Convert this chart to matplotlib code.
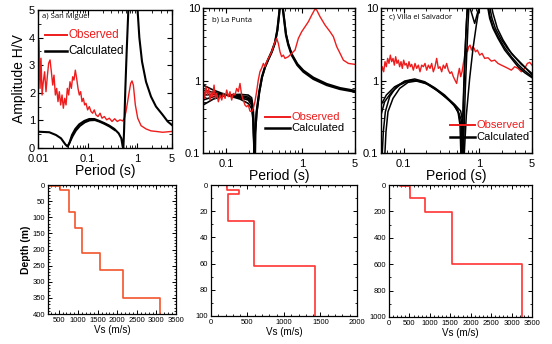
import matplotlib
matplotlib.use("Agg")
import matplotlib.pyplot as plt
from matplotlib.ticker import LogLocator, NullFormatter, MultipleLocator
import numpy as np

plt.rcParams['font.family'] = ['Liberation Sans', 'DejaVu Sans']

RED = '#ee1c1c'

# ---- a) San Miguel : H/V ----
a_obs_T = [0.0100, 0.0105, 0.0110, 0.0115, 0.0121, 0.0128, 0.0136, 0.0145, 0.0154, 0.0164,
           0.0175, 0.0186, 0.0198, 0.0210, 0.0224, 0.0238, 0.0253, 0.0269, 0.0286, 0.0305,
           0.0324, 0.0345, 0.0367, 0.0390, 0.0415, 0.0441, 0.0470, 0.0500, 0.0531, 0.0565,
           0.0601, 0.0640, 0.0680, 0.0724, 0.0770, 0.0819, 0.0871, 0.0927, 0.100, 0.108,
           0.117, 0.126, 0.136, 0.147, 0.162, 0.178, 0.195, 0.217, 0.242, 0.273,
           0.310, 0.350, 0.396, 0.449, 0.508, 0.549, 0.593, 0.671, 0.736, 0.783,
           0.833, 0.913, 1.02, 1.19, 1.50, 1.89, 2.38, 3.25, 5.0]
a_obs_A = [1.56, 3.91, 2.16, 3.25, 1.92, 2.40, 2.76, 2.04, 2.58, 3.07,
           3.19, 2.76, 2.28, 2.64, 1.92, 2.16, 1.68, 2.04, 1.56, 1.92,
           1.44, 1.80, 1.56, 2.16, 1.92, 2.40, 2.16, 2.58, 2.46, 2.82,
           2.52, 2.16, 1.92, 2.04, 1.68, 1.80, 1.56, 1.62, 1.38, 1.50,
           1.32, 1.26, 1.38, 1.20, 1.14, 1.26, 1.08, 1.14, 1.02, 1.08,
           0.96, 1.06, 0.96, 1.02, 0.98, 1.08, 1.32, 1.92, 2.34, 2.43,
           2.28, 1.56, 1.08, 0.81, 0.69, 0.62, 0.60, 0.57, 0.60]
a_cal_T = [0.0100, 0.0169, 0.0231, 0.0291, 0.0356, 0.0396, 0.0428, 0.0484, 0.0565, 0.0680,
           0.0858, 0.108, 0.136, 0.172, 0.217, 0.273, 0.345, 0.422, 0.477, 0.508,
           0.524, 0.541, 0.575, 0.611, 0.650, 0.692, 0.833, 0.972, 1.018, 1.10,
           1.245, 1.498, 1.889, 2.382, 3.245, 4.09, 5.0]
a_cal_A = [0.59, 0.57, 0.47, 0.35, 0.13, 0.05, 0.17, 0.47, 0.69, 0.86,
           0.98, 1.05, 1.05, 0.98, 0.90, 0.81, 0.69, 0.53, 0.35, 0.05,
           0.0, 0.59, 2.16, 3.49, 4.69, 6.0, 9.0, 6.0, 4.94, 4.0,
           3.13, 2.40, 1.86, 1.50, 1.20, 0.96, 0.83]
a_cal2_T = [0.0400, 0.0440, 0.0500, 0.0580, 0.0700, 0.0880, 0.110, 0.140, 0.175, 0.220, 0.280, 0.350]
a_cal2_A = [0.08, 0.22, 0.43, 0.63, 0.80, 0.93, 1.00, 1.01, 0.95, 0.87, 0.77, 0.65]

# ---- b) La Punta : H/V ----
b_obs_T = [0.0505, 0.0526, 0.0547, 0.0570, 0.0594, 0.0618, 0.0644, 0.0670, 0.0698, 0.0727,
           0.0757, 0.0796, 0.0837, 0.0881, 0.0926, 0.0974, 0.1024, 0.1077, 0.1132, 0.1191,
           0.1252, 0.1317, 0.1385, 0.1457, 0.1532, 0.1611, 0.1694, 0.1781, 0.1873, 0.1970,
           0.2072, 0.2179, 0.2291, 0.2409, 0.2533, 0.2664, 0.2801, 0.2946, 0.3112, 0.3273,
           0.3442, 0.3619, 0.3806, 0.4002, 0.4209, 0.4426, 0.4655, 0.4895, 0.5148, 0.5413,
           0.5693, 0.5988, 0.6624, 0.7338, 0.8118, 0.8978, 0.9931, 1.099, 1.216, 1.346,
           1.488, 1.565, 1.732, 2.015, 2.345, 2.594, 2.870, 3.175, 3.51, 4.09, 5.0]
b_obs_A = [0.738, 0.567, 0.820, 0.630, 0.778, 0.538, 0.700, 0.598, 0.865, 0.567,
           0.664, 0.510, 0.630, 0.538, 0.664, 0.567, 0.738, 0.598, 0.700, 0.538,
           0.664, 0.630, 0.778, 0.700, 0.912, 0.630, 0.538, 0.459, 0.435, 0.459,
           0.379, 0.371, 0.412, 0.510, 0.700, 1.01, 1.32, 1.47, 1.72, 1.55,
           1.82, 2.02, 2.24, 2.49, 2.93, 3.43, 3.81, 3.25, 2.49, 2.13,
           2.24, 2.02, 2.13, 2.37, 2.63, 3.81, 4.71, 5.52, 6.47, 8.0,
           9.69, 9.38, 7.58, 5.82, 4.71, 4.02, 2.93, 2.37, 1.91, 1.72, 1.67]
# low-period branches of the calculated curves
b_cal_T = [0.0500, 0.0684, 0.1024, 0.1532, 0.1970, 0.2179, 0.2291, 0.2380]
b_cal_A1 = [0.865, 0.738, 0.630, 0.555, 0.483, 0.412, 0.270, 0.05]
b_cal_A2 = [0.738, 0.686, 0.630, 0.579, 0.538, 0.459, 0.300, 0.05]
b_cal_A3 = [0.630, 0.644, 0.630, 0.598, 0.567, 0.499, 0.334, 0.05]
b_cal_A4 = [0.538, 0.598, 0.630, 0.616, 0.591, 0.538, 0.371, 0.05]
b_cal_A5 = [0.459, 0.555, 0.630, 0.644, 0.630, 0.579, 0.412, 0.05]
# high-period branch
b_calR_T = [0.2400, 0.2432, 0.2533, 0.2745, 0.2985, 0.3273, 0.3619, 0.4002, 0.4426, 0.4750,
            0.4998, 0.5148, 0.5300, 0.5525, 0.5810, 0.6170, 0.6624, 0.7338, 0.8710, 1.045,
            1.415, 2.120, 3.175, 5.0]
b_calR_A = [0.05, 0.196, 0.371, 0.700, 1.13, 1.55, 1.98, 2.49, 3.36, 4.97,
            8.0, 11.0, 30.0, 11.0, 7.19, 4.24, 3.08, 2.24, 1.63, 1.32,
            1.05, 0.865, 0.762, 0.700]
b_calR2_A = [0.05, 0.180, 0.350, 0.680, 1.10, 1.52, 1.95, 2.45, 3.30, 4.90,
             7.9, 11.0, 30.0, 11.5, 7.40, 4.40, 3.20, 2.33, 1.70, 1.38,
             1.10, 0.900, 0.790, 0.725]

# ---- c) Villa el Salvador : H/V ----
c_obs_T = [0.0500, 0.0521, 0.0543, 0.0565, 0.0588, 0.0613, 0.0638, 0.0665, 0.0692, 0.0721,
           0.0751, 0.0782, 0.0814, 0.0848, 0.0883, 0.0920, 0.0958, 0.0998, 0.1039, 0.1083,
           0.1128, 0.1174, 0.1223, 0.1274, 0.1341, 0.1411, 0.1484, 0.1562, 0.1643, 0.1729,
           0.1819, 0.1914, 0.2014, 0.2119, 0.2229, 0.2345, 0.2467, 0.2596, 0.2731, 0.2873,
           0.3022, 0.3181, 0.3347, 0.3521, 0.3704, 0.3897, 0.4100, 0.4313, 0.4538, 0.4774,
           0.5023, 0.5233, 0.5453, 0.5681, 0.5919, 0.6166, 0.6424, 0.6693, 0.6973, 0.7265,
           0.7569, 0.7886, 0.8216, 0.8559, 0.8918, 0.9441, 1.014, 1.088, 1.181, 1.307,
           1.447, 1.602, 1.773, 1.963, 2.173, 2.405, 2.662, 2.948, 3.263, 3.613,
           3.999, 4.337, 4.657, 5.0]
c_obs_A = [1.25, 1.55, 1.32, 1.82, 1.55, 2.02, 1.72, 2.24, 1.82, 2.02,
           1.63, 2.13, 1.72, 1.91, 1.55, 1.82, 1.47, 1.91, 1.63, 1.72,
           1.47, 1.82, 1.55, 1.67, 1.39, 1.72, 1.47, 1.63, 1.32, 1.63,
           1.55, 1.72, 1.39, 1.63, 1.47, 1.72, 1.32, 1.55, 2.02, 1.47,
           1.55, 1.32, 1.63, 1.47, 1.72, 1.39, 1.25, 1.32, 1.13, 1.01,
           0.912, 1.19, 1.47, 1.13, 1.32, 1.72, 2.24, 2.78, 2.49, 2.93,
           3.08, 2.63, 2.93, 2.78, 2.49, 2.63, 2.24, 2.37, 2.02, 2.06,
           1.85, 1.91, 1.72, 1.63, 1.55, 1.47, 1.39, 1.55, 1.47, 1.32,
           1.47, 1.72, 1.78, 1.63]
# short-period arches
c_arch1_T = [0.0516, 0.0537, 0.0571, 0.0651, 0.0798, 0.1029, 0.1396, 0.1894, 0.2569, 0.3486, 0.4494, 0.5234, 0.5564, 0.5736]
c_arch1_A = [0.084, 0.196, 0.371, 0.598, 0.820, 0.983, 1.05, 0.962, 0.796, 0.630, 0.483, 0.371, 0.243, 0.084]
c_arch2_T = [0.0559, 0.0582, 0.0619, 0.0721, 0.0884, 0.1139, 0.1469, 0.1992, 0.2703, 0.3666, 0.4634, 0.5341, 0.5794, 0.5974]
c_arch2_A = [0.084, 0.196, 0.371, 0.567, 0.778, 0.942, 0.983, 0.903, 0.738, 0.579, 0.459, 0.352, 0.2185, 0.084]
c_arch3_T = [0.0500, 0.0559, 0.0685, 0.0884, 0.1199, 0.1626, 0.2206, 0.2992, 0.4059, 0.5129, 0.5794, 0.6097]
c_arch3_A = [0.334, 0.510, 0.686, 0.865, 1.004, 0.983, 0.865, 0.686, 0.521, 0.404, 0.285, 0.084]
c_arch4_T = [0.0500, 0.0588, 0.0758, 0.1029, 0.1396, 0.1894, 0.2569, 0.3486, 0.4729, 0.5679, 0.6160, 0.6286]
c_arch4_A = [0.459, 0.630, 0.820, 0.962, 1.004, 0.942, 0.778, 0.616, 0.468, 0.379, 0.243, 0.084]
# long-period peaks
c_peak1_T = [0.6097, 0.6286, 0.6546, 0.6820, 0.7100, 0.7322, 0.8500, 1.280, 1.375, 1.522, 1.773, 2.173, 2.662, 3.263, 3.999, 5.0]
c_peak1_A = [0.084, 0.196, 0.778, 2.24, 5.82, 11.0, 30.0, 11.0, 7.19, 5.24, 3.81, 2.63, 2.02, 1.55, 1.281, 1.093]
c_peak2_T = [0.5794, 0.5974, 0.6223, 0.6477, 0.6750, 0.6973, 0.8000, 1.361, 1.476, 1.634, 1.923, 2.357, 2.948, 3.80, 5.0]
c_peak2_A = [0.084, 0.196, 0.778, 2.24, 5.82, 11.0, 25.0, 11.0, 7.19, 5.24, 3.81, 2.78, 2.13, 1.63, 1.19]
c_peak3_T = [0.6286, 0.6750, 0.7469, 0.8273, 0.9156, 0.9931, 1.020, 1.100, 1.300, 1.375, 1.522, 1.773, 2.173, 2.662, 3.263, 3.999, 5.0]
c_peak3_A = [0.084, 0.334, 1.07, 2.78, 5.82, 9.9, 11.0, 14.0, 12.0, 8.0, 5.52, 4.02, 2.84, 2.13, 1.67, 1.36, 1.13]
c_peak4_T = [0.5919, 0.6166, 0.6546, 0.6820, 0.6973, 0.7100, 0.7800, 0.8700, 0.9725, 1.060, 1.420, 1.522, 1.738, 2.065, 2.662, 3.613, 5.0]
c_peak4_A = [0.084, 0.459, 3.08, 7.19, 9.9, 12.0, 9.0, 6.14, 9.38, 12.0, 12.0, 8.43, 5.24, 3.63, 2.37, 1.67, 1.25]

# ---- Vs profiles ----
a_vs = [240, 540, 755, 930, 1100, 1545, 2145, 3100]
a_bot = [3, 16, 83, 132, 210, 263, 349, 400]
b_vs = [215, 390, 238, 595, 1420]
b_bot = [4.1, 6.6, 27.4, 61.7, 100]
c_vs = [260, 520, 875, 1550, 3260]
c_bot = [5, 99, 207, 600, 1000]


def step_profile(vs, bot):
    xs, ys = [], []
    top = 0
    for v, b in zip(vs, bot):
        xs += [v, v]
        ys += [top, b]
        top = b
    return xs, ys


fig = plt.figure(figsize=(5.52, 3.44), dpi=100)

def style_hv(ax):
    ax.tick_params(which='both', direction='in', top=True, right=True, labelsize=8)
    ax.tick_params(axis='x', pad=4.5)
    ax.tick_params(axis='y', pad=2)
    ax.tick_params(which='major', length=3.5, width=0.8)
    ax.tick_params(which='minor', length=2, width=0.6)
    for s in ax.spines.values():
        s.set_linewidth(1.0)

def legend_lines(ax, x0, x1, yr, yb, fs):
    ax.plot([x0, x1], [yr, yr], color=RED, lw=1.4, transform=ax.transAxes)
    ax.plot([x0, x1], [yb, yb], color='black', lw=1.8, transform=ax.transAxes)
    ax.text(x1 + 0.01, yr, 'Observed', color=RED, fontsize=fs, va='center', transform=ax.transAxes)
    ax.text(x1 + 0.01, yb, 'Calculated', color='black', fontsize=fs, va='center', transform=ax.transAxes)

# top a
ax1 = fig.add_axes([0.0688, 0.5698, 0.2428, 0.4012])
ax1.plot(a_obs_T, a_obs_A, color=RED, lw=1.0)
ax1.plot(a_cal2_T, a_cal2_A, color='black', lw=1.4)
ax1.plot(a_cal_T, a_cal_A, color='black', lw=1.5)
ax1.set_xscale('log')
ax1.set_xlim(0.01, 5)
ax1.set_ylim(0, 5)
ax1.set_xticks([0.01, 0.1, 1, 5])
ax1.set_xticklabels(['0.01', '0.1', '1', '5'])
ax1.xaxis.set_minor_locator(LogLocator(base=10, subs=np.arange(2, 10)))
ax1.xaxis.set_minor_formatter(NullFormatter())
ax1.yaxis.set_major_locator(MultipleLocator(1))
ax1.yaxis.set_minor_locator(MultipleLocator(0.5))
style_hv(ax1)
ax1.set_xlabel('Period (s)', fontsize=10, labelpad=0)
ax1.set_ylabel('Amplitude H/V', fontsize=10, labelpad=2)
ax1.text(0.03, 0.955, 'a) San Miguel', fontsize=5.5, family='Open Sans', va='center', transform=ax1.transAxes)
legend_lines(ax1, 0.05, 0.22, 0.82, 0.70, 8.5)

# top b
ax2 = fig.add_axes([0.3678, 0.5552, 0.2754, 0.4215])
for arr in [b_cal_A1, b_cal_A2, b_cal_A3, b_cal_A4, b_cal_A5]:
    ax2.plot(b_cal_T, arr, color='black', lw=1.2)
ax2.plot(b_calR_T, b_calR_A, color='black', lw=1.6)
ax2.plot(b_calR_T, b_calR2_A, color='black', lw=1.4)
ax2.plot(b_obs_T, b_obs_A, color=RED, lw=1.0)

# top c
ax3 = fig.add_axes([0.6902, 0.5552, 0.2736, 0.4215])
ax3.plot(c_obs_T, c_obs_A, color=RED, lw=1.0)
for t, a in [(c_arch1_T, c_arch1_A), (c_arch2_T, c_arch2_A), (c_arch3_T, c_arch3_A), (c_arch4_T, c_arch4_A),
             (c_peak1_T, c_peak1_A), (c_peak2_T, c_peak2_A), (c_peak3_T, c_peak3_A), (c_peak4_T, c_peak4_A)]:
    ax3.plot(t, a, color='black', lw=1.1)

for ax in (ax2, ax3):
    ax.set_xscale('log')
    ax.set_yscale('log')
    ax.set_xlim(0.05, 5)
    ax.set_ylim(0.1, 10)
    ax.set_xticks([0.1, 1, 5])
    ax.set_xticklabels(['0.1', '1', '5'])
    ax.set_yticks([0.1, 1, 10])
    ax.set_yticklabels(['0.1', '1', '10'])
    ax.xaxis.set_minor_locator(LogLocator(base=10, subs=np.arange(2, 10)))
    ax.xaxis.set_minor_formatter(NullFormatter())
    ax.yaxis.set_minor_locator(LogLocator(base=10, subs=np.arange(2, 10)))
    ax.yaxis.set_minor_formatter(NullFormatter())
    style_hv(ax)
    ax.set_xlabel('Period (s)', fontsize=10, labelpad=0)

ax2.text(0.06, 0.92, 'b) La Punta', fontsize=5.5, family='Open Sans', va='center', transform=ax2.transAxes)
legend_lines(ax2, 0.41, 0.57, 0.25, 0.17, 8)
ax3.text(0.05, 0.94, 'c) Villa el Salvador', fontsize=5.5, family='Open Sans', va='center', transform=ax3.transAxes)
legend_lines(ax3, 0.46, 0.62, 0.19, 0.11, 8)

# bottom profiles
def style_vs(ax):
    ax.tick_params(which='both', direction='in', top=True, right=True, labelsize=5.5, pad=2)
    ax.tick_params(which='major', length=3, width=0.7)
    ax.tick_params(which='minor', length=1.6, width=0.6)
    for s in ax.spines.values():
        s.set_linewidth(0.9)
    ax.set_xlabel('Vs (m/s)', fontsize=7, labelpad=1)

bx1 = fig.add_axes([0.087, 0.0872, 0.2319, 0.375])
xs, ys = step_profile(a_vs, a_bot)
bx1.plot(xs, ys, color='#f2552c', lw=1.2)
bx1.set_xlim(230, 3500)
bx1.set_ylim(400, 0)
bx1.xaxis.set_major_locator(MultipleLocator(500))
bx1.xaxis.set_minor_locator(MultipleLocator(100))
bx1.yaxis.set_major_locator(MultipleLocator(50))
bx1.yaxis.set_minor_locator(MultipleLocator(10))
style_vs(bx1)
bx1.set_ylabel('Depth (m)', fontsize=7.5, fontweight='bold', labelpad=1)

bx2 = fig.add_axes([0.3822, 0.0814, 0.2645, 0.3808])
xs, ys = step_profile(b_vs, b_bot)
bx2.plot(xs, ys, color='#ff3333', lw=1.2)
bx2.set_xlim(0, 2000)
bx2.set_ylim(100, 0)
bx2.xaxis.set_major_locator(MultipleLocator(500))
bx2.xaxis.set_minor_locator(MultipleLocator(100))
bx2.yaxis.set_major_locator(MultipleLocator(20))
bx2.yaxis.set_minor_locator(MultipleLocator(10))
style_vs(bx2)

bx3 = fig.add_axes([0.7047, 0.0785, 0.259, 0.3837])
xs, ys = step_profile(c_vs, c_bot)
bx3.plot(xs, ys, color='#ff3333', lw=1.2)
bx3.set_xlim(0, 3500)
bx3.set_ylim(1000, 0)
bx3.xaxis.set_major_locator(MultipleLocator(500))
bx3.xaxis.set_minor_locator(MultipleLocator(100))
bx3.yaxis.set_major_locator(MultipleLocator(200))
bx3.yaxis.set_minor_locator(MultipleLocator(100))
style_vs(bx3)

fig.savefig('out.png', dpi=100)
